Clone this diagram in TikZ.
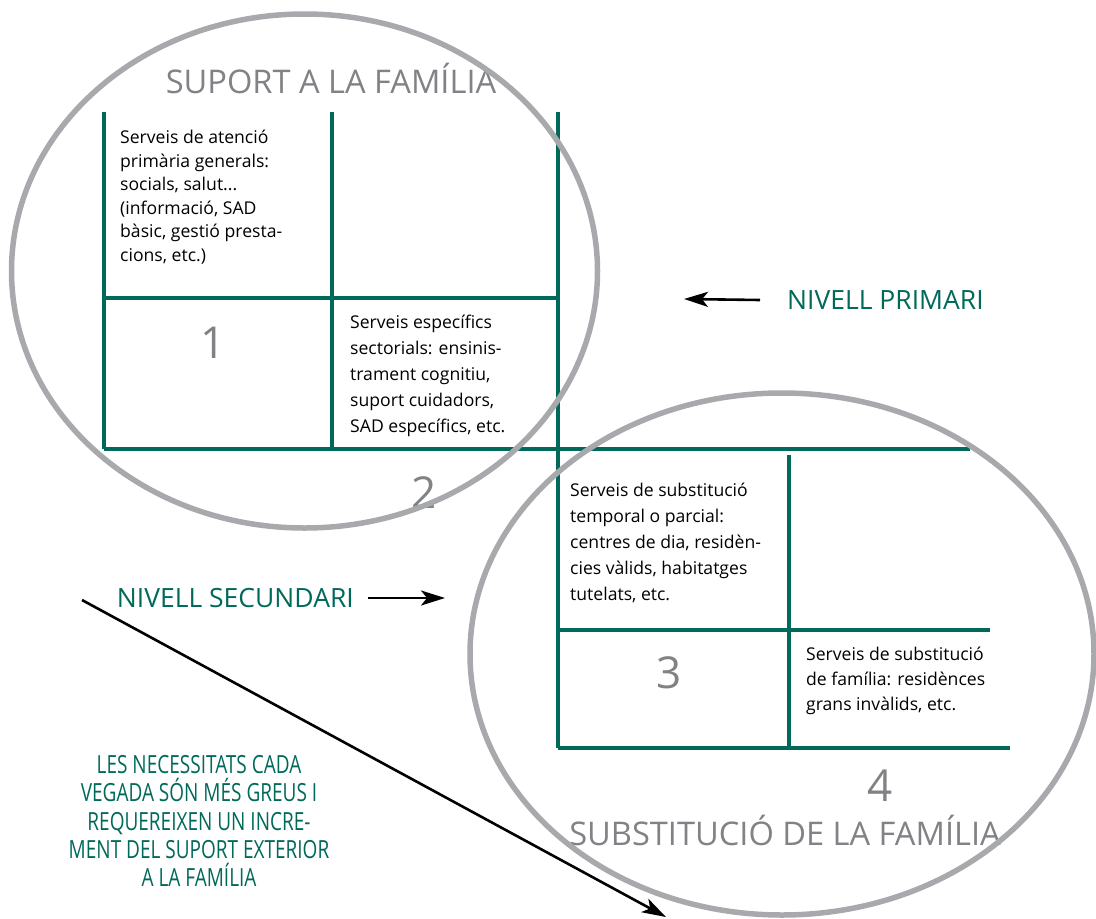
\documentclass[tikz,border=0pt]{standalone}
\usepackage{fontspec}
\setmainfont{Open Sans}
\newfontfamily\condfont[FakeStretch=0.76]{Open Sans}
\usetikzlibrary{arrows.meta}
\definecolor{grn}{HTML}{00695A}
\definecolor{ellgray}{HTML}{A7A9AC}
\definecolor{txtgray}{HTML}{808285}
\tikzset{
  gridline/.style={draw=grn, line width=3.4pt},
  oval/.style={draw=ellgray, line width=5.5pt},
  celltext/.style={anchor=north west, inner sep=0pt, align=left, font=\fontsize{17.6}{23.5}\selectfont, text=black},
  bignum/.style={inner sep=0pt, font=\fontsize{44}{44}\selectfont, text=txtgray},
  title/.style={inner sep=0pt, font=\fontsize{32.6}{33}\selectfont, text=txtgray},
  level/.style={inner sep=0pt, font=\fontsize{26.5}{27}\selectfont, text=grn},
  blackarrow/.style={draw=black, line width=2.6pt, -{Stealth[length=24pt,width=15pt,inset=6pt]}},
}
\begin{document}
\begin{tikzpicture}[x=1pt,y=-1pt]
\useasboundingbox (0,0) rectangle (1096,919);
% upper grid
\coordinate (a1) at (104,112); \coordinate (a2) at (332,112); \coordinate (a3) at (558,112);
\coordinate (b1) at (104,298); \coordinate (b3) at (558,298);
\coordinate (c1) at (104,449); \coordinate (c2) at (332,449); \coordinate (c3) at (558,449); \coordinate (c4) at (970,449);
\draw[gridline] (a1) -- (c1);
\draw[gridline] (a2) -- (c2);
\draw[gridline] (a3) -- (c3);
\draw[gridline] (b1) -- (b3);
\draw[gridline] (c1) -- (c4);
% lower grid
\coordinate (d2) at (789,455); \coordinate (e1) at (558,630); \coordinate (e3) at (990,630);
\coordinate (f1) at (558,748); \coordinate (f2) at (789,748); \coordinate (f3) at (1010,748);
\draw[gridline] (c3) -- (f1);
\draw[gridline] (d2) -- (f2);
\draw[gridline] (e1) -- (e3);
\draw[gridline] (f1) -- (f3);
% texts
\node[title] (t1) at (331,78) {SUPORT A LA FAMÍLIA};
\node[celltext] (s1) at (120,130) {Serveis de atenció\\primària generals:\\socials, salut...\\(informació, SAD\\bàsic, gestió presta-\\cions, etc.)};
\node[bignum] (n1) at (213,343) {1};
\node[celltext, font=\fontsize{17.6}{26}\selectfont] (s2) at (350,315) {Serveis específics\\sectorials: ensinis-\\trament cognitiu,\\suport cuidadors,\\SAD específics, etc.};
\node[bignum] (n2) at (424,493) {2};
\node[celltext, font=\fontsize{17.6}{26}\selectfont] (s3) at (570,483) {Serveis de substitució\\temporal o parcial:\\centres de dia, residèn-\\cies vàlids, habitatges\\tutelats, etc.};
\node[bignum] (n3) at (669,673) {3};
\node[celltext, font=\fontsize{17.6}{25}\selectfont] (s4) at (806,647) {Serveis de substitució\\de família: residènces\\grans invàlids, etc.};
\node[bignum] (n4) at (880,786) {4};
\node[title] (t2) at (785,830) {SUBSTITUCIÓ DE LA FAMÍLIA};
% levels
\node[level, anchor=west] (np) at (787,300) {NIVELL PRIMARI};
\coordinate (npend) at (684,299);
\draw[blackarrow] ([xshift=-27pt]np.west) -- (npend);
\node[level, anchor=east] (ns) at (354,598) {NIVELL SECUNDARI};
\coordinate (nsend) at (445,598);
\draw[blackarrow] ([xshift=14pt]ns.east) -- (nsend);
% note
\node[inner sep=0pt, align=center, text=grn, font=\condfont\fontsize{25}{28.3}\selectfont] (note) at (199,821) {LES NECESSITATS CADA\\VEGADA SÓN MÉS GREUS I\\REQUEREIXEN UN INCRE-\\MENT DEL SUPORT EXTERIOR\\A LA FAMÍLIA};
% ellipses
\draw[oval] (304.5,271) ellipse [x radius=293, y radius=257];
\draw[oval] (782,654) ellipse [x radius=312, y radius=261];
% diagonal arrow
\coordinate (dstart) at (82,600);
\coordinate (dend) at (666,917);
\draw[blackarrow] (dstart) -- (dend);
\end{tikzpicture}
\end{document}
